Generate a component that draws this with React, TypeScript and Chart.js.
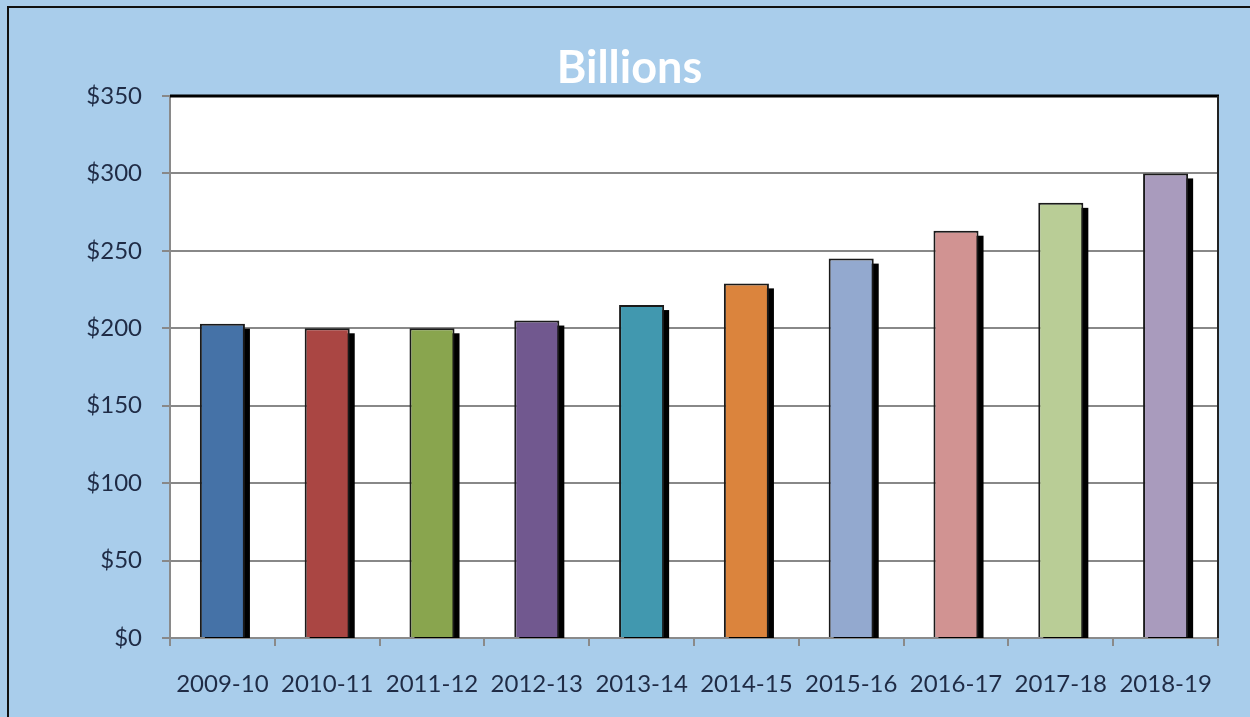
import React, { useEffect, useRef } from "react";
import { Chart, registerables } from "chart.js";

Chart.register(...registerables);

const categories = ["2009-10", "2010-11", "2011-12", "2012-13", "2013-14", "2014-15", "2015-16", "2016-17", "2017-18", "2018-19"];
const values = [203, 200, 200, 205, 215, 229, 245, 263, 281, 300];
const barColors = ["#4572A7", "#AA4643", "#89A54E", "#71588F", "#4198AF", "#DB843D", "#93A9CF", "#D19392", "#B9CD96", "#A99BBD"];
const titleText = "Billions";
const yMax = 350;
const yStep = 50;

const FONT = "Lato, 'DejaVu Sans', sans-serif";
const TEXT = "#1F2B45";
const BG = "#A9CDEB";

const plotPlugin = {
  id: "plotDecor",
  beforeDraw(chart: any) {
    const { ctx, chartArea } = chart;
    ctx.save();
    ctx.fillStyle = "#FFFFFF";
    ctx.fillRect(chartArea.left, chartArea.top, chartArea.right - chartArea.left, chartArea.bottom - chartArea.top);
    ctx.restore();
  },
  beforeDatasetDraw(chart: any, args: any) {
    const { ctx, chartArea } = chart;
    const meta = args.meta;
    ctx.save();
    ctx.beginPath();
    ctx.rect(chartArea.left, chartArea.top, chartArea.right - chartArea.left, chartArea.bottom - chartArea.top);
    ctx.clip();
    ctx.fillStyle = "#000000";
    meta.data.forEach((el: any) => {
      const p = el.getProps(["x", "y", "base", "width"], true);
      ctx.fillRect(p.x - p.width / 2 + 5, p.y + 5, p.width, p.base - p.y);
    });
    ctx.restore();
  },
  afterDraw(chart: any) {
    const { ctx, chartArea } = chart;
    ctx.save();
    ctx.strokeStyle = "#000000";
    ctx.lineWidth = 3;
    ctx.beginPath();
    ctx.moveTo(chartArea.left, chartArea.top);
    ctx.lineTo(chartArea.right + 1, chartArea.top);
    ctx.stroke();
    ctx.strokeStyle = "#222222";
    ctx.lineWidth = 2;
    ctx.beginPath();
    ctx.moveTo(chartArea.right, chartArea.top);
    ctx.lineTo(chartArea.right, chartArea.bottom);
    ctx.stroke();
    ctx.restore();
  },
};

export default function App() {
  const ref = useRef<HTMLCanvasElement>(null);
  useEffect(() => {
    if (!ref.current) return;
    const chart = new Chart(ref.current, {
      type: "bar",
      data: {
        labels: categories,
        datasets: [
          {
            data: values,
            backgroundColor: barColors,
            borderColor: "#1A1A1A",
            borderWidth: 2,
            barPercentage: 0.43,
            categoryPercentage: 1,
          },
        ],
      },
      options: {
        animation: false,
        responsive: false,
        maintainAspectRatio: false,
        layout: { padding: 0 },
        plugins: {
          legend: { display: false },
          tooltip: { enabled: false },
          title: {
            display: true,
            text: titleText,
            color: "#FFFFFF",
            font: { family: FONT, size: 45, weight: "bold" },
            padding: { top: 33, bottom: 1 },
          },
        },
        scales: {
          x: {
            grid: { display: true, drawOnChartArea: false, drawTicks: true, tickLength: 8, color: "#8A8A8A", lineWidth: 2, offset: true },
            border: { display: true, color: "#8A8A8A", width: 2 },
            ticks: { color: TEXT, font: { family: FONT, size: 24 }, padding: 24, maxRotation: 0, autoSkip: false },
            afterFit(scale: any) {
              scale.height = 79;
            },
          },
          y: {
            min: 0,
            max: yMax,
            grid: { color: "#888888", lineWidth: 2, tickLength: 8, drawTicks: true },
            border: { display: true, color: "#8A8A8A", width: 2 },
            ticks: {
              stepSize: yStep,
              color: TEXT,
              font: { family: FONT, size: 24 },
              padding: 20,
              callback: (v: any) => "$" + v,
            },
            afterFit(scale: any) {
              scale.width = 161;
            },
          },
          yRight: {
            position: "right",
            display: true,
            min: 0,
            max: yMax,
            grid: { display: false, drawOnChartArea: false, drawTicks: false },
            border: { display: false },
            ticks: { display: false },
            afterFit(scale: any) {
              scale.width = 32;
            },
          },
        },
      },
      plugins: [plotPlugin],
    });
    return () => chart.destroy();
  }, []);

  return (
    <div style={{ position: "absolute", left: 0, top: 0, width: 1250, height: 717, background: BG, overflow: "hidden" }}>
      <div style={{ position: "absolute", left: 7, top: 6, width: 1250 - 7, height: 717 - 6, borderLeft: "2px solid #111", borderTop: "2px solid #111" }}>
        <canvas ref={ref} width={1241} height={709} style={{ display: "block" }} />
      </div>
    </div>
  );
}
